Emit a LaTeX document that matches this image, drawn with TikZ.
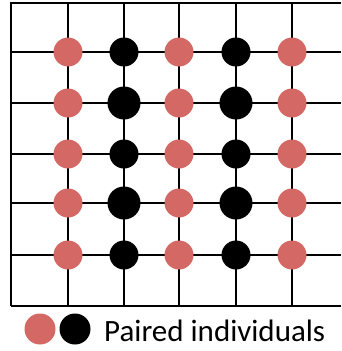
\documentclass[tikz,border=0pt]{standalone}
\usepackage{fontspec}
\setmainfont{Carlito}
\definecolor{dotred}{RGB}{212,104,100}
\begin{document}
\begin{tikzpicture}[x=1pt,y=-1pt,
  gridline/.style={line width=2pt,black},
  reddot/.style={circle,fill=dotred,inner sep=0pt,minimum size=29pt},
  blacksmall/.style={circle,fill=black,inner sep=0pt,minimum size=29pt},
  blackbig/.style={circle,fill=black,inner sep=0pt,minimum size=33pt}]
\useasboundingbox (0,0) rectangle (341,351);
% verticals
\foreach \x in {11,68,124,179,236,292}
  \draw[gridline] (\x,2) -- (\x,306);
% horizontals
\foreach \y in {3,52,103,154,203,255,306}
  \draw[gridline] (11,\y) -- (341,\y);
% dots
\foreach \y [count=\r] in {52,103,154,203,255} {
  \foreach \x [count=\c] in {68,179,292}
    \node[reddot] (r\r-\c) at (\x,\y) {};
}
\foreach \y [count=\r] in {52,154,255}
  \foreach \x [count=\c] in {124,236}
    \node[blacksmall] (bs\r-\c) at (\x,\y) {};
\foreach \y [count=\r] in {103,203}
  \foreach \x [count=\c] in {124,236}
    \node[blackbig] (bb\r-\c) at (\x,\y) {};
% legend
\node[reddot,minimum size=31pt] (lr) at (40,329) {};
\node[blacksmall,minimum size=31pt] (lb) at (75,329) {};
\node[anchor=base west,font=\fontsize{31}{34}\selectfont,inner sep=0pt] (lt) at (104,341) {Paired individuals};
\end{tikzpicture}
\end{document}
